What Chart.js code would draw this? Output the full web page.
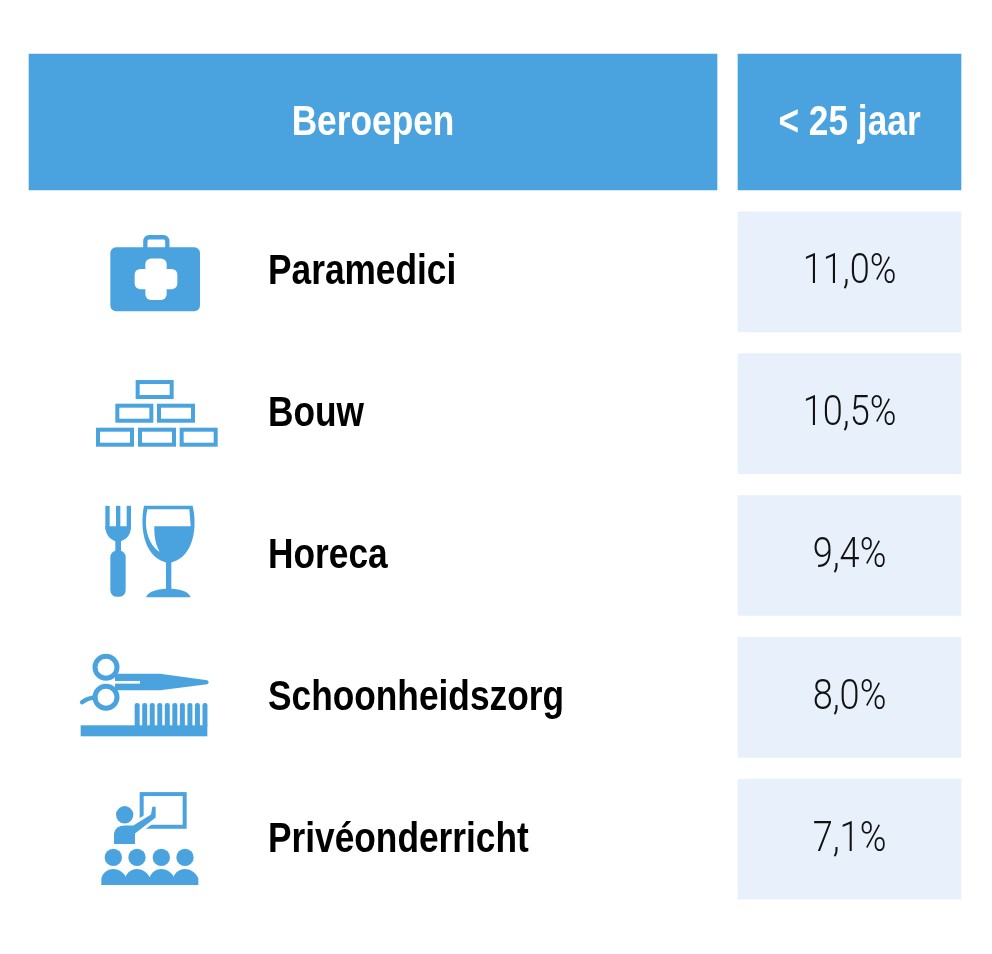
<!DOCTYPE html>
<html lang="nl">
<head>
<meta charset="utf-8">
<title>Beroepen</title>
<script src="https://cdn.jsdelivr.net/npm/chart.js@4"></script>
<style>
  html, body { margin: 0; background: #fff; }
  canvas { display: block; }
</style>
</head>
<body>
<canvas id="chart" width="992" height="954"></canvas>
<script>
const headers = ['Beroepen', '< 25 jaar'];
const beroepen = ['Paramedici', 'Bouw', 'Horeca', 'Schoonheidszorg', 'Privéonderricht'];
const aandeel = [11.0, 10.5, 9.4, 8.0, 7.1];

const BLUE = '#4aa3df';
const CELL = '#e8f1fb';
const BOLD = 'bold 42px "Liberation Sans", sans-serif';
const LIGHT = '300 42px Roboto, sans-serif';

// icons are traced in 3x crop coordinates, ox/oy is the crop origin relative to the row centre
function inCrop(ctx, rowY, ox, oy, draw) {
  ctx.save();
  ctx.translate(ox, rowY + oy);
  ctx.scale(1 / 3, 1 / 3);
  ctx.fillStyle = BLUE;
  ctx.strokeStyle = BLUE;
  draw();
  ctx.restore();
}

function roundBox(ctx, x, y, w, h, r) {
  ctx.beginPath();
  ctx.roundRect(x, y, w, h, r);
  ctx.fill();
}

function drawKit(ctx, rowY) {
  inCrop(ctx, rowY, 70, -52, () => {
    ctx.lineWidth = 13;
    ctx.beginPath();
    ctx.roundRect(226, 52, 66, 50, 11);
    ctx.stroke();
    roundBox(ctx, 121, 82, 269, 192, 17);
    ctx.fillStyle = '#fff';
    roundBox(ctx, 226, 116, 64, 124, 17);
    roundBox(ctx, 194, 147, 128, 61, 17);
  });
}

function drawBricks(ctx, rowY) {
  const bricks = [[197, 481], [136, 552], [261, 552], [78, 624], [204, 624], [329, 624]];
  inCrop(ctx, rowY, 70, -194, () => {
    ctx.lineWidth = 12;
    bricks.forEach(b => ctx.strokeRect(b[0] + 6, b[1] + 6, 102, 45));
  });
}

function drawFoodAndWine(ctx, rowY) {
  inCrop(ctx, rowY, 70, -61, () => {
    // vork
    [106, 138, 170].forEach(x => ctx.fillRect(x, 34, 13, 70));
    ctx.beginPath();
    ctx.moveTo(106, 95);
    ctx.bezierCurveTo(106, 125, 125, 135, 136, 140);
    ctx.lineTo(136, 172);
    ctx.lineTo(153, 172);
    ctx.lineTo(153, 140);
    ctx.bezierCurveTo(165, 135, 183, 125, 183, 95);
    ctx.closePath();
    ctx.fill();
    roundBox(ctx, 121, 168, 46, 139, 20);
    // glas
    ctx.beginPath();
    ctx.moveTo(222, 34);
    ctx.lineTo(368, 34);
    ctx.bezierCurveTo(385, 110, 365, 195, 296, 206);
    ctx.bezierCurveTo(227, 195, 207, 110, 222, 34);
    ctx.fill();
    ctx.fillRect(288, 200, 16, 90);
    ctx.beginPath();
    ctx.moveTo(228, 308);
    ctx.bezierCurveTo(235, 290, 265, 283, 296, 283);
    ctx.bezierCurveTo(327, 283, 355, 290, 362, 308);
    ctx.closePath();
    ctx.fill();
    ctx.fillStyle = '#fff';
    ctx.beginPath();
    ctx.moveTo(232, 44);
    ctx.lineTo(358, 44);
    ctx.lineTo(362, 95);
    ctx.lineTo(253, 95);
    ctx.bezierCurveTo(252, 125, 257, 150, 269, 172);
    ctx.bezierCurveTo(235, 150, 220, 100, 232, 44);
    ctx.fill();
  });
}

function drawScissorsAndComb(ctx, rowY) {
  inCrop(ctx, rowY, 70, -57, () => {
    // schaar
    ctx.beginPath();
    ctx.moveTo(135, 100);
    ctx.lineTo(270, 100);
    ctx.lineTo(412, 120);
    ctx.quadraticCurveTo(420, 126, 412, 132);
    ctx.lineTo(270, 150);
    ctx.lineTo(135, 150);
    ctx.closePath();
    ctx.fill();
    ctx.fillStyle = '#fff';
    ctx.fillRect(130, 122, 80, 8);
    ctx.fillStyle = BLUE;
    ctx.lineWidth = 15;
    ctx.beginPath();
    ctx.arc(108, 81, 33, 0, Math.PI * 2);
    ctx.stroke();
    ctx.beginPath();
    ctx.arc(108, 171, 33, 0, Math.PI * 2);
    ctx.stroke();
    ctx.lineWidth = 13;
    ctx.lineCap = 'round';
    ctx.beginPath();
    ctx.moveTo(76, 172);
    ctx.quadraticCurveTo(55, 172, 36, 186);
    ctx.stroke();
    // kam
    ctx.fillRect(32, 255, 380, 33);
    for (let t = 0; t < 10; t++) {
      roundBox(ctx, 194 + t * 22.6, 188, 15, 75, 7);
    }
  });
}

function drawTeacher(ctx, rowY) {
  const arm = () => {
    ctx.beginPath();
    ctx.moveTo(72, 192);
    ctx.lineTo(72, 160);
    ctx.quadraticCurveTo(76, 136, 105, 136);
    ctx.lineTo(130, 136);
    ctx.lineTo(183, 103);
    ctx.lineTo(187, 80);
    ctx.lineTo(197, 80);
    ctx.lineTo(197, 112);
    ctx.lineTo(135, 160);
    ctx.lineTo(135, 192);
    ctx.closePath();
  };
  inCrop(ctx, rowY, 90, -59, () => {
    ctx.lineWidth = 12;
    ctx.strokeRect(155, 42, 129, 98);
    ctx.strokeStyle = '#fff';
    ctx.lineWidth = 18;
    arm();
    ctx.stroke();
    arm();
    ctx.fill();
    ctx.beginPath();
    ctx.arc(104, 104, 26, 0, Math.PI * 2);
    ctx.fill();
    [70, 141, 214, 285].forEach(cx => {
      ctx.beginPath();
      ctx.arc(cx, 232, 26, 0, Math.PI * 2);
      ctx.fill();
      ctx.beginPath();
      ctx.moveTo(cx - 36, 315);
      ctx.lineTo(cx - 36, 295);
      ctx.bezierCurveTo(cx - 30, 275, cx - 15, 267, cx, 267);
      ctx.bezierCurveTo(cx + 15, 267, cx + 30, 275, cx + 40, 295);
      ctx.lineTo(cx + 40, 315);
      ctx.closePath();
      ctx.fill();
    });
  });
}

const iconen = [drawKit, drawBricks, drawFoodAndWine, drawScissorsAndComb, drawTeacher];

// the reference type is condensed, no installed face is, so squeeze horizontally
function narrowText(ctx, text, x, y, squeeze) {
  ctx.save();
  ctx.translate(x, y);
  ctx.scale(squeeze, 1);
  ctx.fillText(text, 0, 0);
  ctx.restore();
}

const tableText = {
  id: 'tableText',
  afterDatasetsDraw(chart) {
    const ctx = chart.ctx;
    const rows = chart.scales.yRows;
    const x = chart.scales.x;
    ctx.save();
    ctx.textBaseline = 'middle';

    // kop
    ctx.fillStyle = '#fff';
    ctx.textAlign = 'center';
    ctx.font = BOLD;
    headers.forEach((h, i) => {
      const c = chart.getDatasetMeta(i).data[0].getCenterPoint();
      narrowText(ctx, h, c.x, c.y + 1, 0.84);
    });

    beroepen.forEach((naam, i) => {
      const y = rows.getPixelForValue(i);
      iconen[i](ctx, y);
      ctx.fillStyle = '#000';
      ctx.textAlign = 'left';
      ctx.font = BOLD;
      narrowText(ctx, naam, x.getPixelForValue(268), y + 1, 0.84);
      const c = chart.getDatasetMeta(2).data[i].getCenterPoint();
      ctx.fillStyle = '#111';
      ctx.textAlign = 'center';
      ctx.font = LIGHT;
      narrowText(ctx, aandeel[i].toFixed(1).replace('.', ',') + '%', c.x, y + 1, 0.86);
    });
    ctx.restore();
  }
};

new Chart(document.getElementById('chart'), {
  type: 'bar',
  data: {
    labels: beroepen,
    datasets: [
      { yAxisID: 'yHead', data: [[29, 717]], backgroundColor: BLUE, barThickness: 136, grouped: false },
      { yAxisID: 'yHead', data: [[738, 961]], backgroundColor: BLUE, barThickness: 136, grouped: false },
      { yAxisID: 'yRows', data: aandeel.map(() => [738, 961]), backgroundColor: CELL, barThickness: 120, grouped: false }
    ]
  },
  options: {
    indexAxis: 'y',
    responsive: false,
    animation: false,
    devicePixelRatio: 1,
    layout: { padding: { top: 43, bottom: 44, left: 0, right: 0 } },
    plugins: { legend: { display: false }, tooltip: { enabled: false }, title: { display: false } },
    scales: {
      x: { type: 'linear', min: 0, max: 992, display: false },
      yRows: { type: 'category', labels: beroepen, offset: true, display: false, stack: 'tabel', stackWeight: 709 },
      yHead: { type: 'category', labels: ['kop'], offset: true, display: false, stack: 'tabel', stackWeight: 158 }
    }
  },
  plugins: [tableText]
});
</script>
</body>
</html>
